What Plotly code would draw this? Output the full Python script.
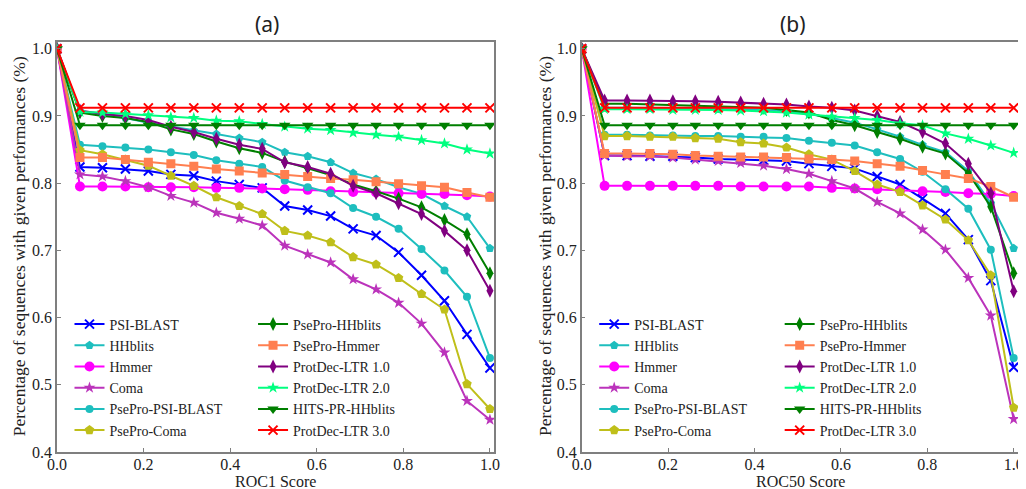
import plotly.graph_objects as go
from plotly.subplots import make_subplots

# ROC score thresholds (20 bins)
score = [0.0, 0.053, 0.105, 0.158, 0.211, 0.263, 0.316, 0.368, 0.421, 0.474,
         0.526, 0.579, 0.632, 0.684, 0.737, 0.789, 0.842, 0.895, 0.947, 1.0]

# (a) ROC1
psi_blast_roc1 = [1.0, 0.824, 0.823, 0.821, 0.818, 0.813, 0.811, 0.803, 0.798, 0.793,
                  0.766, 0.760, 0.751, 0.732, 0.722, 0.697, 0.663, 0.625, 0.575, 0.525]
hhblits_roc1 = [1.0, 0.907, 0.902, 0.897, 0.890, 0.884, 0.878, 0.873, 0.867, 0.861,
                0.846, 0.840, 0.831, 0.815, 0.806, 0.794, 0.784, 0.766, 0.750, 0.703]
hmmer_roc1 = [1.0, 0.795, 0.795, 0.795, 0.794, 0.794, 0.794, 0.793, 0.793, 0.792,
              0.791, 0.790, 0.788, 0.787, 0.786, 0.785, 0.784, 0.784, 0.782, 0.780]
coma_roc1 = [1.0, 0.813, 0.810, 0.803, 0.794, 0.781, 0.771, 0.756, 0.747, 0.737,
             0.707, 0.694, 0.682, 0.657, 0.642, 0.622, 0.591, 0.548, 0.476, 0.448]
psepro_psiblast_roc1 = [1.0, 0.857, 0.855, 0.853, 0.850, 0.846, 0.842, 0.834, 0.829, 0.824,
                        0.804, 0.794, 0.785, 0.763, 0.750, 0.732, 0.702, 0.670, 0.631, 0.540]
psepro_coma_roc1 = [1.0, 0.849, 0.843, 0.835, 0.826, 0.811, 0.796, 0.779, 0.766, 0.754,
                    0.729, 0.722, 0.712, 0.690, 0.679, 0.659, 0.635, 0.612, 0.501, 0.464]
psepro_hhblits_roc1 = [1.0, 0.905, 0.900, 0.897, 0.891, 0.880, 0.873, 0.862, 0.852, 0.845,
                       0.832, 0.822, 0.812, 0.798, 0.788, 0.777, 0.764, 0.745, 0.724, 0.666]
psepro_hmmer_roc1 = [1.0, 0.838, 0.838, 0.835, 0.831, 0.829, 0.825, 0.821, 0.818, 0.815,
                     0.813, 0.810, 0.807, 0.805, 0.802, 0.799, 0.796, 0.794, 0.786, 0.779]
protdec1_roc1 = [1.0, 0.908, 0.903, 0.900, 0.894, 0.884, 0.876, 0.866, 0.857, 0.851,
                 0.831, 0.824, 0.814, 0.796, 0.785, 0.770, 0.754, 0.729, 0.700, 0.640]
protdec2_roc1 = [1.0, 0.906, 0.905, 0.903, 0.901, 0.898, 0.897, 0.893, 0.892, 0.888,
                 0.884, 0.881, 0.879, 0.875, 0.872, 0.869, 0.864, 0.859, 0.850, 0.844]
hits_roc1 = [1.0, 0.886, 0.886, 0.886, 0.886, 0.886, 0.886, 0.886, 0.886, 0.886,
             0.886, 0.886, 0.886, 0.886, 0.886, 0.886, 0.886, 0.886, 0.886, 0.886]
protdec3_roc1 = [1.0, 0.912, 0.912, 0.912, 0.912, 0.912, 0.912, 0.912, 0.912, 0.912,
                 0.912, 0.912, 0.912, 0.912, 0.912, 0.912, 0.912, 0.912, 0.912, 0.912]

# (b) ROC50
psi_blast_roc50 = [1.0, 0.841, 0.841, 0.840, 0.840, 0.838, 0.836, 0.835, 0.834, 0.833,
                   0.829, 0.825, 0.822, 0.810, 0.798, 0.777, 0.755, 0.716, 0.655, 0.526]
hhblits_roc50 = [1.0, 0.912, 0.912, 0.912, 0.911, 0.911, 0.910, 0.910, 0.909, 0.907,
                 0.903, 0.897, 0.890, 0.880, 0.869, 0.857, 0.846, 0.818, 0.770, 0.703]
hmmer_roc50 = [1.0, 0.796, 0.796, 0.796, 0.796, 0.796, 0.796, 0.795, 0.795, 0.795,
               0.795, 0.793, 0.792, 0.791, 0.789, 0.788, 0.787, 0.785, 0.784, 0.781]
coma_roc50 = [1.0, 0.841, 0.840, 0.840, 0.838, 0.835, 0.833, 0.830, 0.826, 0.821,
              0.814, 0.803, 0.792, 0.772, 0.755, 0.731, 0.701, 0.659, 0.603, 0.449]
psepro_psiblast_roc50 = [1.0, 0.872, 0.872, 0.871, 0.871, 0.870, 0.870, 0.869, 0.869, 0.867,
                         0.863, 0.860, 0.856, 0.846, 0.836, 0.817, 0.791, 0.762, 0.701, 0.540]
psepro_coma_roc50 = [1.0, 0.870, 0.870, 0.869, 0.869, 0.867, 0.866, 0.861, 0.859, 0.853,
                     0.843, 0.835, 0.818, 0.798, 0.787, 0.767, 0.746, 0.715, 0.663, 0.466]
psepro_hhblits_roc50 = [1.0, 0.918, 0.918, 0.917, 0.917, 0.916, 0.915, 0.914, 0.912, 0.909,
                        0.905, 0.894, 0.886, 0.876, 0.866, 0.854, 0.844, 0.815, 0.765, 0.666]
psepro_hmmer_roc50 = [1.0, 0.844, 0.844, 0.844, 0.843, 0.841, 0.840, 0.839, 0.839, 0.838,
                      0.836, 0.835, 0.833, 0.829, 0.825, 0.819, 0.813, 0.807, 0.795, 0.779]
protdec1_roc50 = [1.0, 0.923, 0.923, 0.923, 0.922, 0.922, 0.921, 0.920, 0.918, 0.917,
                  0.914, 0.912, 0.908, 0.900, 0.891, 0.876, 0.859, 0.829, 0.785, 0.639]
protdec2_roc50 = [1.0, 0.910, 0.910, 0.910, 0.909, 0.909, 0.909, 0.908, 0.907, 0.905,
                  0.902, 0.899, 0.897, 0.894, 0.889, 0.886, 0.874, 0.866, 0.856, 0.845]
hits_roc50 = [1.0, 0.886, 0.886, 0.886, 0.886, 0.886, 0.886, 0.886, 0.886, 0.886,
              0.886, 0.886, 0.886, 0.886, 0.886, 0.886, 0.886, 0.886, 0.886, 0.886]
protdec3_roc50 = [1.0, 0.912, 0.912, 0.912, 0.912, 0.912, 0.912, 0.912, 0.912, 0.912,
                  0.912, 0.912, 0.912, 0.912, 0.912, 0.912, 0.912, 0.912, 0.912, 0.912]

# name, colour, marker symbol, marker size, roc1, roc50
methods = [
    ('PSI-BLAST', '#0000ff', 'x-thin-open', 9, psi_blast_roc1, psi_blast_roc50),
    ('HHblits', '#1ebebe', 'pentagon', 9, hhblits_roc1, hhblits_roc50),
    ('Hmmer', '#ff00ff', 'circle', 10, hmmer_roc1, hmmer_roc50),
    ('Coma', '#bb33bb', 'star', 9, coma_roc1, coma_roc50),
    ('PsePro-PSI-BLAST', '#1ebebe', 'circle', 8, psepro_psiblast_roc1, psepro_psiblast_roc50),
    ('PsePro-Coma', '#bfbf1a', 'pentagon', 10, psepro_coma_roc1, psepro_coma_roc50),
    ('PsePro-HHblits', '#007f00', 'diamond-tall', 10, psepro_hhblits_roc1, psepro_hhblits_roc50),
    ('PsePro-Hmmer', '#ff7f50', 'square', 9, psepro_hmmer_roc1, psepro_hmmer_roc50),
    ('ProtDec-LTR 1.0', '#800080', 'diamond-tall', 10, protdec1_roc1, protdec1_roc50),
    ('ProtDec-LTR 2.0', '#00ff7f', 'star', 9, protdec2_roc1, protdec2_roc50),
    ('HITS-PR-HHblits', '#007f00', 'triangle-down', 10, hits_roc1, hits_roc50),
    ('ProtDec-LTR 3.0', '#ff0000', 'x-thin-open', 9, protdec3_roc1, protdec3_roc50),
]

serif = 'Liberation Serif, Times New Roman, serif'

fig = make_subplots(rows=1, cols=2)

for k, (name, color, symbol, size, roc1, roc50) in enumerate(methods):
    for col, values in ((1, roc1), (2, roc50)):
        legend = ['legend', 'legend2', 'legend3', 'legend4'][(col - 1) * 2 + (k >= 6)]
        fig.add_trace(
            go.Scatter(
                x=score, y=values, name=name, mode='lines+markers',
                line={'color': color, 'width': 2},
                marker={'symbol': symbol, 'size': size, 'color': color,
                        'line': {'color': color, 'width': 2 if 'x-thin' in symbol else 0}},
                legend=legend,
            ),
            row=1, col=col,
        )

axis_style = dict(showgrid=False, zeroline=False, showline=True, mirror=True,
                  linecolor='#7f7f7f', linewidth=1.5, ticks='inside', ticklen=4,
                  tickcolor='#7f7f7f', tickformat='.1f',
                  tickfont={'family': serif, 'size': 16, 'color': '#222222'})

fig.update_xaxes(axis_style, range=[0, 1.01], dtick=0.2, tick0=0, ticklabelstandoff=-3)
fig.update_yaxes(axis_style, range=[0.4, 1.01], dtick=0.1, tick0=0.4)
fig.update_layout(xaxis={'domain': [0, 0.455]}, xaxis2={'domain': [0.546, 1.0]})

legend_style = dict(font={'family': serif, 'size': 14, 'color': '#222222'},
                    bgcolor='rgba(0,0,0,0)', xanchor='left', yanchor='top',
                    y=0.350, itemwidth=30)
fig.update_layout(
    legend=dict(legend_style, x=0.013),
    legend2=dict(legend_style, x=0.204),
    legend3=dict(legend_style, x=0.559),
    legend4=dict(legend_style, x=0.752),
)


# window pixel -> paper coordinates (page body adds an 8px offset)
def px_x(p):
    return (p - 57) / 967


def px_y(p):
    return (452 - p) / 410


title_font = {'family': 'Noto Sans, sans-serif', 'size': 21, 'color': '#222222'}
label_font = {'family': serif, 'size': 16, 'color': '#222222'}
ytitle_font = {'family': serif, 'size': 17.5, 'color': '#222222'}
annotations = [
    dict(text='(a)', x=px_x(268), y=px_y(24), font=title_font),
    dict(text='(b)', x=px_x(798), y=px_y(24), font=title_font),
    dict(text='ROC1 Score', x=px_x(277), y=px_y(481), font=label_font),
    dict(text='ROC50 Score', x=px_x(805), y=px_y(481), font=label_font),
    dict(text='Percentage of sequences with given performances (%)',
         x=px_x(19), y=px_y(246), textangle=-90, font=ytitle_font),
    dict(text='Percentage of sequences with given performances (%)',
         x=px_x(548), y=px_y(246), textangle=-90, font=ytitle_font),
]
for a in annotations:
    a.update(xref='paper', yref='paper', showarrow=False, xanchor='center', yanchor='middle')

fig.update_layout(
    annotations=annotations,
    width=1018, height=481,
    margin={'l': 49, 'r': 2, 't': 34, 'b': 37},
    paper_bgcolor='white', plot_bgcolor='white',
)

fig.write_html('out.html')
